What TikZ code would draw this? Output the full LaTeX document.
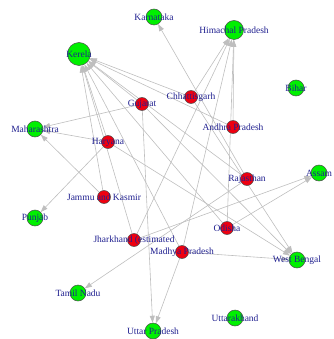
\documentclass[tikz,border=0pt]{standalone}
\usepackage{fontspec}
\setmainfont{Liberation Serif}
\usetikzlibrary{arrows.meta,backgrounds}
\definecolor{edgegray}{HTML}{BEBEBE}
\definecolor{labelblue}{HTML}{1F1F8F}
\definecolor{srcred}{HTML}{EE0010}
\definecolor{dstgreen}{HTML}{00F000}
\tikzset{
  vtx/.style={circle,draw=black!70,line width=0.5pt,inner sep=0pt},
  src/.style={vtx,fill=srcred,minimum size=13pt},
  dst/.style={vtx,fill=dstgreen,minimum size=16pt},
  lbl/.style={text=labelblue,font=\fontsize{9.5}{10}\selectfont,inner sep=0pt},
  link/.style={draw=edgegray,line width=0.6pt,-{Triangle[length=7pt,width=5pt,fill=edgegray]}}
}
\begin{document}
\begin{tikzpicture}[x=1pt,y=-1pt]
\useasboundingbox (0,0) rectangle (333,339);
% target states
\node[dst,minimum size=23pt] (ker) at (79,54) {};
\node[dst,minimum size=19pt] (him) at (234,30) {};
\node[dst] (kar) at (154,17) {};
\node[dst] (bih) at (296,88) {};
\node[dst] (mah) at (35,129) {};
\node[dst] (ass) at (319,173) {};
\node[dst] (pun) at (35,218) {};
\node[dst] (wbe) at (297,260) {};
\node[dst] (tam) at (78,293) {};
\node[dst] (utk) at (235,318) {};
\node[dst] (utp) at (153,331) {};
% source states
\node[src] (chh) at (191,97) {};
\node[src] (guj) at (142,104) {};
\node[src] (and) at (233,127) {};
\node[src] (har) at (108,142) {};
\node[src] (raj) at (247,179) {};
\node[src] (jam) at (104,197) {};
\node[src] (odi) at (227,228) {};
\node[src] (jha) at (134,240) {};
\node[src] (mad) at (182,252) {};
% connectors, kept behind the circles
\begin{scope}[on background layer]
\foreach \s/\t in {guj/ker,chh/ker,and/ker,har/ker,raj/ker,jam/ker,odi/ker,jha/ker,mad/ker,
  guj/mah,har/mah,jam/mah,har/pun,guj/utp,mad/utp,guj/wbe,chh/wbe,har/wbe,mad/wbe,
  chh/him,and/him,jha/him,mad/him,odi/him,raj/kar,raj/tam,odi/ass,jha/ass}
  \draw[link] (\s) -- (\t);
\end{scope}
% labels
\node[lbl] (lker) at (ker) {Kerela};
\node[lbl] (lhim) at (him) {Himachal Pradesh};
\node[lbl] (lkar) at (kar) {Karnataka};
\node[lbl] (lbih) at (bih) {Bihar};
\node[lbl] (lmah) at (mah) {Maharashtra};
\node[lbl] (lass) at (ass) {Assam};
\node[lbl] (lpun) at (pun) {Punjab};
\node[lbl] (lwbe) at (wbe) {West Bengal};
\node[lbl] (ltam) at (tam) {Tamil Nadu};
\node[lbl] (lutk) at (utk) {Uttarakhand};
\node[lbl] (lutp) at (utp) {Uttar Pradesh};
\node[lbl] (lchh) at (chh) {Chhattisgarh};
\node[lbl] (lguj) at (guj) {Gujarat};
\node[lbl] (land) at (and) {Andhra Pradesh};
\node[lbl] (lhar) at (har) {Haryana};
\node[lbl] (lraj) at (raj) {Rajasthan};
\node[lbl] (ljam) at (jam) {Jammu and Kasmir};
\node[lbl] (lodi) at (odi) {Odisha};
\node[lbl] (ljha) at (jha) {Jharkhand (estimated};
\node[lbl] (lmad) at (mad) {Madhya Pradesh};
\end{tikzpicture}
\end{document}
